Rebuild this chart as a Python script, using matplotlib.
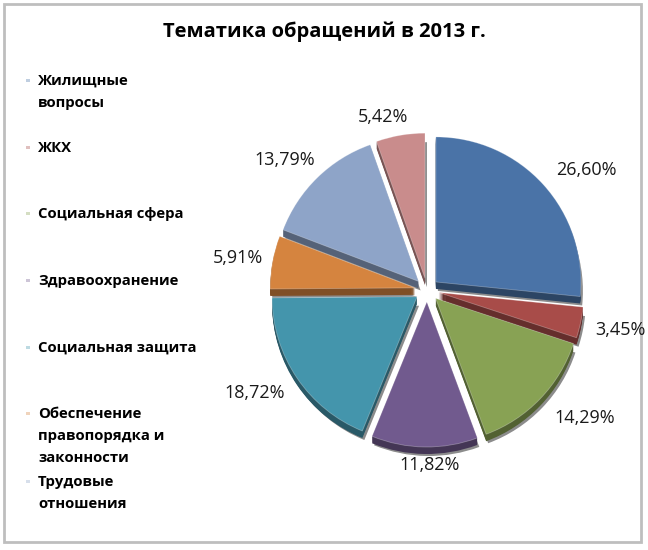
import matplotlib.pyplot as plt
import matplotlib.patches as mpatches
import numpy as np
from matplotlib.colors import to_rgb

plt.rcParams["font.family"] = ["Open Sans", "DejaVu Sans"]

# data
shares = [26.60, 3.45, 14.29, 11.82, 18.72, 5.91, 13.79, 5.42]
share_labels = ["26,60%", "3,45%", "14,29%", "11,82%", "18,72%", "5,91%", "13,79%", "5,42%"]
legend_labels = [
    "Жилищные\nвопросы",
    "ЖКХ",
    "Социальная сфера",
    "Здравоохранение",
    "Социальная защита",
    "Обеспечение\nправопорядка и\nзаконности",
    "Трудовые\nотношения",
]
colors = ["#4A73A7", "#A84C49", "#88A254", "#715A8E", "#4495AC", "#D5843F", "#8EA4C8", "#C98C8C"]

# layout (pixels, y measured from top)
W, H = 648, 550
cx, cy, R = 427, 290, 145
gap = 12  # explode offset in pixels
depth = 7
label_dist = [1.374, 1.359, 1.40, 1.207, 1.383, 1.322, 1.328, 1.231]
label_turn = [-5.1, 0.3, 4.9, 1.9, -3.2, 0.6, 3.2, 4.5]  # degrees
legend_y = [80, 147, 213, 280, 347, 413, 481]


def darker(c, f=0.6):
    r, g, b = to_rgb(c)
    return (r * f, g * f, b * f)


fig = plt.figure(figsize=(W / 100, H / 100), dpi=100)
ax = fig.add_axes([0, 0, 1, 1])

py = H - cy
common = dict(startangle=90, counterclock=False, explode=[gap] * len(shares), radius=R)

# soft shadow
ax.pie(shares, center=(cx + 2, py - depth - 2), colors=["#000000"] * len(shares),
       wedgeprops=dict(alpha=0.45, linewidth=0), **common)
# side / depth of the slices
for k in np.linspace(depth, 1, 7):
    ax.pie(shares, center=(cx, py - k), colors=[darker(c) for c in colors],
           wedgeprops=dict(linewidth=0), **common)
# top faces
wedges, _ = ax.pie(shares, center=(cx, py), colors=colors,
                   wedgeprops=dict(linewidth=0.6, edgecolor=(1, 1, 1, 0.3)), **common)

for w, lab, d, t in zip(wedges, share_labels, label_dist, label_turn):
    th = np.deg2rad((w.theta1 + w.theta2) / 2 + t)
    ax.text(cx + d * R * np.cos(th), py + d * R * np.sin(th), lab,
            ha="center", va="center", fontsize=13, color="#1a1a1a")

ax.text(W / 2, H - 32, "Тематика обращений в 2013 г.", ha="center", va="center",
        fontsize=14.5, fontweight="bold", color="black")

for lab, c, y in zip(legend_labels, colors, legend_y):
    ax.add_patch(mpatches.Rectangle((26, H - y - 2), 3.5, 3.5, color=c, alpha=0.35, lw=0))
    ax.text(38, H - y + 6, lab, ha="left", va="top", fontsize=10.7, fontweight="bold",
            linespacing=1.72)

ax.add_patch(mpatches.Rectangle((4, H - 542), 637, 538, fill=False,
                                edgecolor="#BEBEBE", linewidth=2))

ax.set_xlim(0, W)
ax.set_ylim(0, H)
ax.set_aspect("auto")
ax.axis("off")

plt.savefig("out.png", dpi=100)
